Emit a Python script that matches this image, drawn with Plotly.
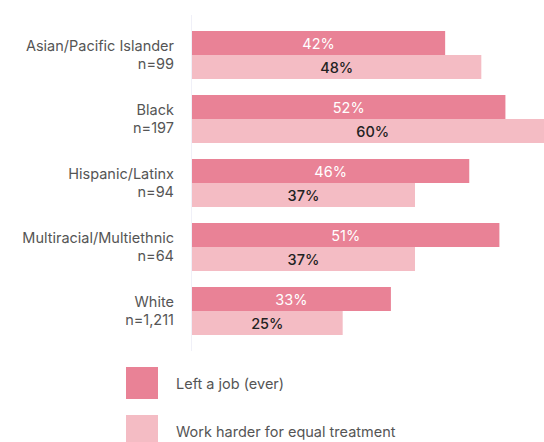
import plotly.graph_objects as go

categories = ["Asian/Pacific Islander", "Black", "Hispanic/Latinx", "Multiracial/Multiethnic", "White"]
sample_sizes = ["n=99", "n=197", "n=94", "n=64", "n=1,211"]
series_names = ["Left a job (ever)", "Work harder for equal treatment"]
left_job = [42, 52, 46, 51, 33]
work_harder = [48, 60, 37, 37, 25]

dark = "#E98296"
light = "#F4BCC4"
font_family = "Inter, 'Noto Sans', sans-serif"

fig = go.Figure()
fig.add_trace(go.Bar(
    y=categories, x=left_job, orientation="h", name=series_names[0],
    marker=dict(color=dark, line=dict(width=0)),
    text=[f"{v}%" for v in left_job], textposition="inside", insidetextanchor="middle",
    textfont=dict(color="#ffffff", size=14.5, family=font_family),
    showlegend=False, cliponaxis=True,
))
fig.add_trace(go.Bar(
    y=categories, x=work_harder, orientation="h", name=series_names[1],
    marker=dict(color=light, line=dict(width=0)),
    text=[f"{v}%" for v in work_harder], textposition="inside", insidetextanchor="middle",
    textfont=dict(color="#222222", size=14.5, family=font_family, weight=500),
    showlegend=False, cliponaxis=True,
))

tick_text = [f"{c}<br>{n}" for c, n in zip(categories, sample_sizes)]

annotations = []
# Legend (custom, large swatches)
shapes = []
legend_y = [(-0.0476, -0.1429, -0.0982), (-0.1905, -0.2857, -0.2396)]
for (y0, y1, yt), name, col in zip(legend_y, series_names, [dark, light]):
    shapes.append(dict(type="rect", xref="paper", yref="paper", x0=-0.1875, x1=-0.0966,
                       y0=y0, y1=y1, fillcolor=col, line=dict(width=0)))
    annotations.append(dict(xref="paper", yref="paper", x=-0.0511, y=yt, text=name,
                            showarrow=False, xanchor="left", yanchor="middle",
                            font=dict(size=14.5, color="#555555", family=font_family)))

fig.update_layout(
    width=544, height=442,
    margin=dict(l=192, r=0, t=15, b=91, pad=0),
    paper_bgcolor="white", plot_bgcolor="white",
    barmode="group", bargap=0.25, bargroupgap=0,
    xaxis=dict(range=[0, 58.4], visible=False, showgrid=False, zeroline=False),
    yaxis=dict(categoryorder="array", categoryarray=categories, range=[4.625, -0.625],
               tickmode="array", tickvals=categories, ticktext=tick_text,
               tickfont=dict(size=14.5, color="#555555", family=font_family),
               ticks="", ticklabelstandoff=14,
               showgrid=False, zeroline=False,
               showline=True, linecolor="#F0F0F8", linewidth=1.2),
    annotations=annotations, shapes=shapes,
    font=dict(family=font_family),
)

fig.write_html("out.html", config={"displayModeBar": False},
               post_script="document.body.style.margin='0';")
